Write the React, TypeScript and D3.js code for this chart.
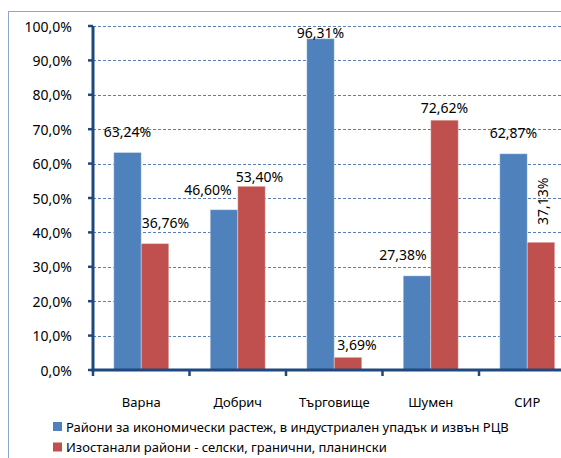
import React from "react";
import * as d3 from "d3";

const categories = ["Варна", "Добрич", "Търговище", "Шумен", "СИР"];
const seriesNames = [
  "Райони за икономически растеж, в индустриален упадък и извън РЦВ",
  "Изостанали райони - селски, гранични, планински",
];
const growthValues = [0.6324, 0.466, 0.9631, 0.2738, 0.6287];
const laggingValues = [0.3676, 0.534, 0.0369, 0.7262, 0.3713];
const yTicks = [0, 0.1, 0.2, 0.3, 0.4, 0.5, 0.6, 0.7, 0.8, 0.9, 1.0];

// style: manual label nudges (dx, dy from bar top centre), rotation
const growthNudge: [number, number, number][] = [
  [0, -21, 0], [-16, -20, 0], [0, -6, 0], [-14, -21, 0], [0, -21, 0],
];
const laggingNudge: [number, number, number][] = [
  [10.5, -21, 0], [8, -10, 0], [9, -13, 0], [0, -13, 0], [2, -41, -90],
];

const W = 561;
const H = 458;
const FONT = "'Noto Sans', sans-serif";
const FS = 13;
const FSN = 14;
const COLORS = ["#4F81BD", "#C0504D"];
const AXIS = "#1F497D";

const fmtPct = (v: number) => (v * 100).toFixed(2).replace(".", ",") + "%";
const fmtTick = (v: number) => (v * 100).toFixed(1).replace(".", ",") + "%";

export default function App() {
  const x = d3.scaleBand<string>().domain(categories).range([93, 93 + 5 * 96.5]).paddingInner(0).paddingOuter(0);
  const y = d3.scaleLinear().domain([0, 1]).range([370, 26]);
  const groupRatio = 0.57;
  const sub = d3.scaleBand<number>().domain([0, 1]).range([0, x.bandwidth() * groupRatio]);
  const groupOffset = (x.bandwidth() * (1 - groupRatio)) / 2;
  const series = [growthValues, laggingValues];
  const nudges = [growthNudge, laggingNudge];

  return (
    <svg width={W} height={H} style={{ position: "absolute", left: 0, top: 0, background: "#fff" }} fontFamily={FONT}>
      <rect x={8.5} y={11.5} width={W} height={H} fill="#fff" stroke="#8EA6CE" strokeWidth={1} />
      {yTicks.map((t) => (
        t > 0 ? (
          <line key={"g" + t} x1={93} x2={W} y1={Math.round(y(t)) + 0.5} y2={Math.round(y(t)) + 0.5}
            stroke="#5B7DB8" strokeWidth={1} strokeDasharray="3,2" />
        ) : null
      ))}
      {series.map((vals, si) =>
        vals.map((v, i) => {
          const bx = (x(categories[i]) as number) + groupOffset + (sub(si) as number);
          return (
            <rect key={"b" + si + i} x={bx} y={y(v)} width={sub.bandwidth()} height={y(0) - y(v)}
              fill={COLORS[si]} stroke="#ffffff" strokeOpacity={0.35} strokeWidth={1} />
          );
        })
      )}
      <line x1={93} x2={93} y1={y(1)} y2={y(0) + 1.5} stroke={AXIS} strokeWidth={3} />
      <line x1={91.5} x2={W} y1={y(0)} y2={y(0)} stroke={AXIS} strokeWidth={3} />
      {yTicks.map((t) => (
        <g key={"t" + t}>
          <line x1={88} x2={93} y1={y(t)} y2={y(t)} stroke={AXIS} strokeWidth={2.5} />
          <text x={72} y={y(t)} textAnchor="end" dominantBaseline="central" fontSize={FSN} fill="#000">
            {fmtTick(t)}
          </text>
        </g>
      ))}
      {categories.map((c, i) => (
        <line key={"xt" + i} x1={(x(c) as number)} x2={(x(c) as number)} y1={y(0)} y2={y(0) + 6} stroke={AXIS} strokeWidth={2.5} />
      ))}
      {categories.map((c) => (
        <text key={"c" + c} x={(x(c) as number) + x.bandwidth() / 2} y={406.5} textAnchor="middle" fontSize={FS} fill="#000">
          {c}
        </text>
      ))}
      {series.map((vals, si) =>
        vals.map((v, i) => {
          const bx = (x(categories[i]) as number) + groupOffset + (sub(si) as number) + sub.bandwidth() / 2;
          const [dx, dy, rot] = nudges[si][i];
          const lx = bx + dx;
          const ly = y(v) + dy;
          return (
            <text key={"l" + si + i} x={lx} y={ly} textAnchor="middle" dominantBaseline="central" fontSize={FSN}
              fill="#000" transform={rot ? `rotate(${rot} ${lx} ${ly})` : undefined}>
              {fmtPct(v)}
            </text>
          );
        })
      )}
      {seriesNames.map((n, si) => (
        <g key={"lg" + si}>
          <rect x={53} y={422 + si * 20.5} width={9} height={9} fill={COLORS[si]} />
          <text x={66} y={426.5 + si * 20.5} dominantBaseline="central" fontSize={FS} fill="#000">
            {n}
          </text>
        </g>
      ))}
    </svg>
  );
}
